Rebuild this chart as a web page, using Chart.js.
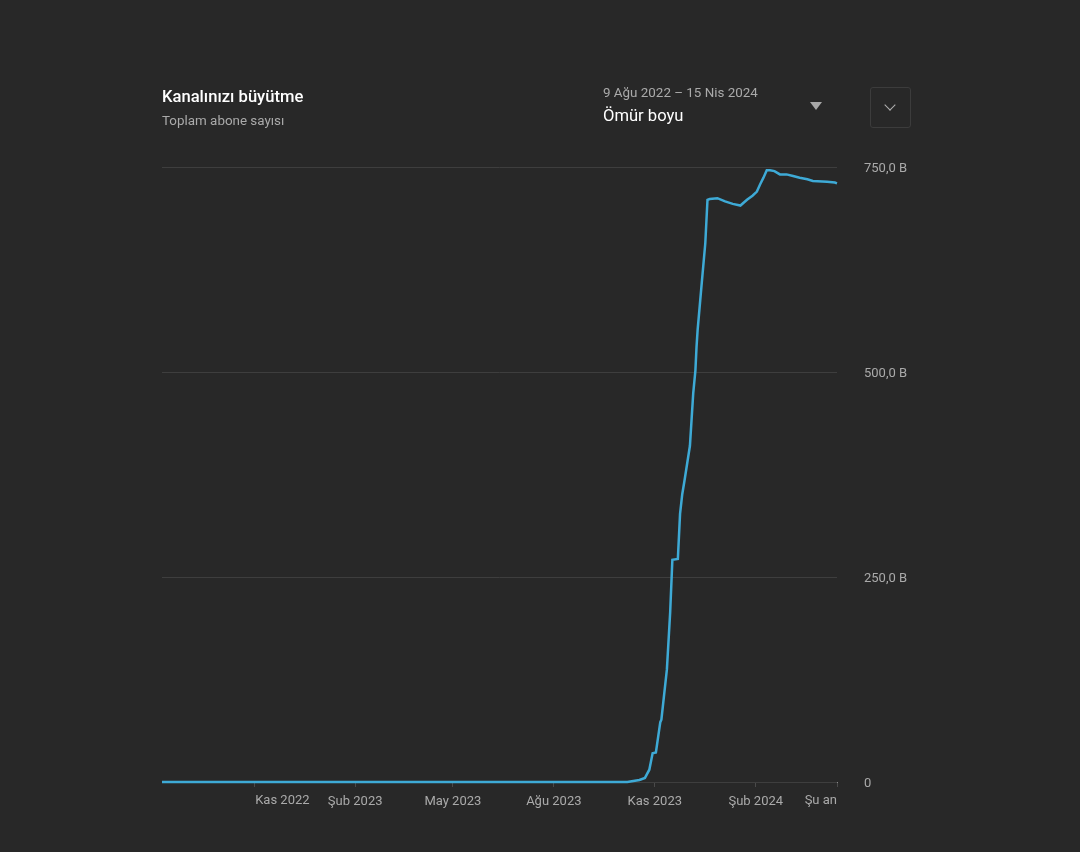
<!DOCTYPE html>
<html>
<head>
<meta charset="utf-8">
<script src="https://cdn.jsdelivr.net/npm/chart.js@4.4.1/dist/chart.umd.min.js"></script>
<style>
  html, body { margin:0; padding:0; background:#282828; }
  body { width:1080px; height:852px; position:relative; overflow:hidden; font-family: Roboto, "Noto Sans", sans-serif; }
  #wrap { position:absolute; left:0; top:0; width:1080px; height:852px; }
  .t { position:absolute; white-space:nowrap; }
  #title { left:162px; top:87px; font-size:16.6px; line-height:20px; font-weight:500; color:#fff; }
  #sub { left:162px; top:113px; font-size:13.4px; line-height:16px; color:#aaaaaa; }
  #range { left:603px; top:85px; font-size:13.4px; line-height:16px; color:#aaaaaa; }
  #period { left:603px; top:106px; font-size:16.6px; line-height:20px; color:#fff; }
  #tri { position:absolute; left:810px; top:102px; width:0; height:0; border-left:6.5px solid transparent; border-right:6.5px solid transparent; border-top:8px solid #a8a8a8; }
  #btn { position:absolute; left:870px; top:87px; width:39px; height:39px; border:1px solid #3c3c3c; border-radius:3px; box-sizing:content-box; }
  #chev { position:absolute; left:15px; top:13px; width:7px; height:7px; border-right:1.2px solid #b0b0b0; border-bottom:1.2px solid #b0b0b0; transform:rotate(45deg); }
</style>
</head>
<body>
<div id="wrap"><canvas id="c"></canvas></div>
<div class="t" id="title">Kanalınızı büyütme</div>
<div class="t" id="sub">Toplam abone sayısı</div>
<div class="t" id="range">9 Ağu 2022 – 15 Nis 2024</div>
<div class="t" id="period">Ömür boyu</div>
<div id="tri"></div>
<div id="btn"><div id="chev"></div></div>
<script>
// Days since 9 Ağu 2022
const days = [0, 424, 428, 435, 440, 444, 447, 450, 454, 455, 460, 463, 465, 470, 472, 474, 476, 481, 484, 486, 487, 488, 492, 495, 497, 499, 506, 513, 520, 527, 533, 538, 542, 545, 548, 551, 554, 558, 563, 569, 575, 581, 588, 593, 606, 613, 615];
// Total subscribers (thousands, "B")
const subs = [0, 0, 1, 2.5, 5, 15, 35, 36, 73, 76, 137, 207, 271, 272, 327, 351, 367, 410, 474, 502, 530, 551, 612, 657, 710, 711, 712, 708, 705, 703, 710, 715, 720, 729, 737, 746, 746, 745, 741, 741, 739, 737, 735, 733, 732, 731, 730];
// X tick positions (days) and labels
const xTickDays = [84, 176, 265, 357, 449, 541, 615];
const xTickLabels = ["Kas 2022", "Şub 2023", "May 2023", "Ağu 2023", "Kas 2023", "Şub 2024", "Şu an"];
const yTicks = [0, 250, 500, 750];
const yTickLabels = ["0", "250,0 B", "500,0 B", "750,0 B"];

const points = days.map((d, i) => ({ x: d, y: subs[i] }));
const tickFont = { family: 'Roboto, "Noto Sans", sans-serif', size: 13 };
const tickColor = '#aaaaaa';

const edgeLabels = {
  id: 'edgeLabels',
  afterDraw(chart) {
    const ctx = chart.ctx;
    const xs = chart.scales.x;
    ctx.save();
    ctx.font = '13px Roboto, "Noto Sans", sans-serif';
    ctx.fillStyle = tickColor;
    ctx.textBaseline = 'middle';
    const y = chart.chartArea.bottom + 19;
    ctx.textAlign = 'left';
    ctx.fillText(xTickLabels[0], xs.getPixelForValue(xTickDays[0]) + 1, y);
    ctx.textAlign = 'right';
    const n = xTickDays.length - 1;
    ctx.fillText(xTickLabels[n], xs.getPixelForValue(xTickDays[n]), y);
    ctx.restore();
  }
};

new Chart(document.getElementById('c'), {
  type: 'line',
  data: {
    datasets: [{
      data: points,
      borderColor: '#3eaad6',
      borderWidth: 2.5,
      pointRadius: 0,
      tension: 0,
      fill: false,
      clip: 4
    }]
  },
  options: {
    responsive: true,
    maintainAspectRatio: false,
    animation: false,
    layout: { padding: { left: 162, top: 167, right: 0, bottom: 0 } },
    plugins: { legend: { display: false }, tooltip: { enabled: false } },
    scales: {
      x: {
        type: 'linear',
        min: 0,
        max: 615,
        afterBuildTicks(s) { s.ticks = xTickDays.map(v => ({ value: v })); },
        afterFit(s) { s.height = 70; },
        ticks: {
          autoSkip: false,
          maxRotation: 0,
          padding: 7,
          font: tickFont,
          color: tickColor,
          callback(v, i) { return (i === 0 || i === xTickDays.length - 1) ? '' : xTickLabels[i]; }
        },
        grid: { drawOnChartArea: false, drawTicks: true, tickLength: 5, color: '#4a4a4a' },
        border: { display: true, color: '#8a8a8a', width: 1, z: -1 }
      },
      y: {
        position: 'right',
        min: 0,
        max: 750,
        afterBuildTicks(s) { s.ticks = yTicks.map(v => ({ value: v })); },
        afterFit(s) { s.width = 243; },
        ticks: {
          padding: 27,
          labelOffset: 1.5,
          font: tickFont,
          color: tickColor,
          callback(v) { return yTickLabels[yTicks.indexOf(v)]; }
        },
        grid: { drawTicks: false, color: '#3e3e3e', z: -1 },
        border: { display: false }
      }
    }
  },
  plugins: [edgeLabels]
});
</script>
</body>
</html>
